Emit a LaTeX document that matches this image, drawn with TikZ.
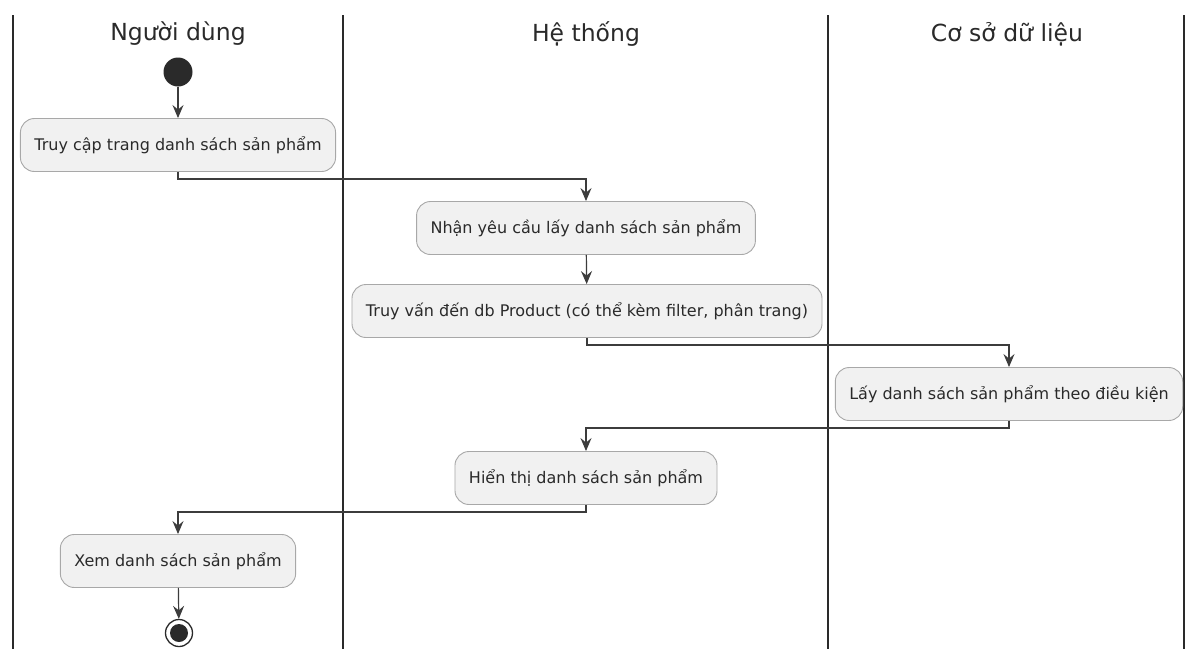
\documentclass[tikz,border=0pt]{standalone}
\usepackage{fontspec}
\setmainfont{DejaVu Sans}
\usetikzlibrary{arrows.meta}
\definecolor{actfill}{HTML}{F1F1F1}
\definecolor{actline}{HTML}{A8A8A8}
\definecolor{ink}{HTML}{2A2A2A}
\definecolor{wire}{HTML}{3C3C3C}
\tikzset{
  lane/.style={draw=ink, line width=1.6pt},
  lanetitle/.style={text=ink, font=\fontsize{23.5}{28}\selectfont, inner sep=0pt},
  act/.style={draw=actline, line width=0.9pt, fill=actfill, rounded corners=14pt,
    minimum height=53pt, inner xsep=14pt, text=ink, font=\fontsize{16}{19}\selectfont},
  flow/.style={draw=wire, line width=1.2pt,
    -{Stealth[length=13pt, width=11pt, inset=4.5pt]}},
  startnode/.style={circle, fill=ink, minimum size=29pt, inner sep=0pt},
  endnode/.style={circle, draw=ink, line width=1.3pt, fill=white, minimum size=27pt, inner sep=0pt}
}
\begin{document}
\begin{tikzpicture}[x=1pt, y=-1pt]
\useasboundingbox[fill=white] (0,0) rectangle (1186,649);

% swimlane separators
\draw[lane] (13,15) -- (13,649);
\draw[lane] (343,15) -- (343,649);
\draw[lane] (828,15) -- (828,649);
\draw[lane] (1184,15) -- (1184,649);

% lane headers
\node[lanetitle] (t1) at (178,34) {Người dùng};
\node[lanetitle] (t2) at (586,34) {Hệ thống};
\node[lanetitle] (t3) at (1007,34) {Cơ sở dữ liệu};

% start and end
\node[startnode] (start) at (178,72) {};
\node[endnode] (stop) at (179,633) {};
\fill[ink] (stop.center) circle (9);

% activities
\node[act] (a1) at (178,145) {Truy cập trang danh sách sản phẩm};
\node[act] (a2) at (586,228) {Nhận yêu cầu lấy danh sách sản phẩm};
\node[act] (a3) at (587,311) {Truy vấn đến db Product (có thể kèm filter, phân trang)};
\node[act] (a4) at (1009,394) {Lấy danh sách sản phẩm theo điều kiện};
\node[act] (a5) at (586,478) {Hiển thị danh sách sản phẩm};
\node[act] (a6) at (178,561) {Xem danh sách sản phẩm};

% control flow
\draw[flow] (start) -- (a1);
\draw[flow] (a1.south) -- ++(0,7) -| (a2.north);
\draw[flow] (a2) -- (a3);
\draw[flow] (a3.south) -- ++(0,7) -| (a4.north);
\draw[flow] (a4.south) -- ++(0,7) -| (a5.north);
\draw[flow] (a5.south) -- ++(0,7) -| (a6.north);
\draw[flow] (a6) -- (stop);
\end{tikzpicture}
\end{document}
